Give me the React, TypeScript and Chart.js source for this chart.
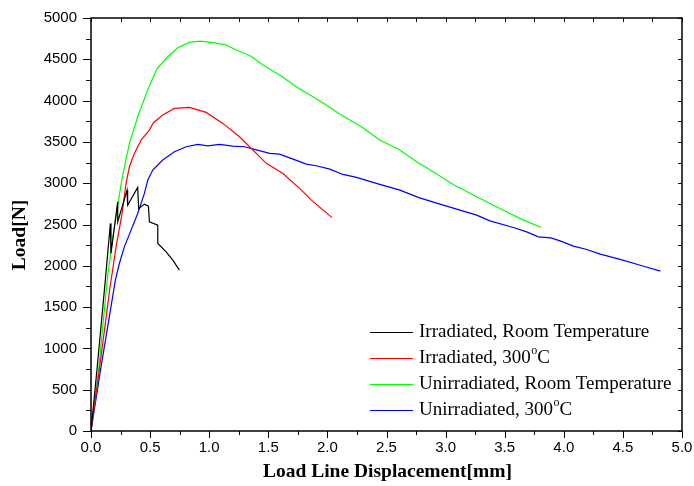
import React, { useEffect, useRef } from "react";
import { Chart, registerables } from "chart.js";

Chart.register(...registerables);

// Irradiated, Room Temperature (black)
const irrRoomX = [0, 0.05, 0.121, 0.164, 0.169, 0.226, 0.226, 0.305, 0.31, 0.395, 0.403, 0.452, 0.486, 0.494, 0.565, 0.565, 0.636, 0.692, 0.748];
const irrRoomY = [0, 735, 1823, 2513, 2149, 2774, 2532, 2916, 2734, 2949, 2694, 2747, 2722, 2532, 2492, 2270, 2169, 2068, 1947];

// Irradiated, 300°C (red)
const irr300X = [0, 0.07, 0.161, 0.183, 0.212, 0.263, 0.297, 0.325, 0.367, 0.424, 0.494, 0.528, 0.607, 0.706, 0.833, 0.975, 1.115, 1.257, 1.342, 1.483, 1.624, 1.765, 1.864, 2.037];
const irr300Y = [0, 735, 1745, 1947, 2229, 2634, 3000, 3199, 3361, 3522, 3643, 3732, 3825, 3906, 3918, 3857, 3724, 3562, 3441, 3240, 3118, 2937, 2795, 2586];

// Unirradiated, Room Temperature (green)
const unirrRoomX = [0, 0.064, 0.141, 0.19, 0.26, 0.325, 0.4, 0.48, 0.556, 0.65, 0.734, 0.833, 0.924, 1.03, 1.135, 1.23, 1.347, 1.455, 1.596, 1.737, 1.878, 1.99, 2.104, 2.3, 2.443, 2.613, 2.754, 2.895, 3.064, 3.263, 3.46, 3.658, 3.81];
const unirrRoomY = [0, 735, 1880, 2400, 3037, 3482, 3825, 4128, 4382, 4531, 4640, 4705, 4721, 4701, 4677, 4612, 4543, 4430, 4309, 4168, 4047, 3946, 3837, 3671, 3522, 3401, 3259, 3138, 2985, 2835, 2694, 2553, 2464];

// Unirradiated, 300°C (blue)
const unirr300X = [0, 0.08, 0.206, 0.24, 0.282, 0.339, 0.395, 0.452, 0.48, 0.522, 0.607, 0.706, 0.805, 0.903, 0.988, 1.087, 1.2, 1.299, 1.384, 1.511, 1.596, 1.709, 1.822, 1.907, 2.02, 2.132, 2.246, 2.443, 2.613, 2.78, 3.008, 3.263, 3.375, 3.573, 3.686, 3.785, 3.89, 3.969, 4.081, 4.195, 4.308, 4.477, 4.647, 4.817];
const unirr300Y = [0, 735, 1823, 2028, 2229, 2432, 2634, 2876, 3037, 3159, 3280, 3380, 3441, 3470, 3453, 3470, 3449, 3441, 3409, 3361, 3352, 3292, 3231, 3211, 3171, 3106, 3070, 2985, 2916, 2823, 2722, 2613, 2544, 2464, 2411, 2350, 2338, 2302, 2238, 2197, 2141, 2077, 2007, 1935];

const xTickValues = [0, 0.5, 1, 1.5, 2, 2.5, 3, 3.5, 4, 4.5, 5];
const xTickLabels = ["0.0", "0.5", "1.0", "1.5", "2.0", "2.5", "3.0", "3.5", "4.0", "4.5", "5.0"];
const yTickValues = [0, 500, 1000, 1500, 2000, 2500, 3000, 3500, 4000, 4500, 5000];
const yTickLabels = ["0", "500", "1000", "1500", "2000", "2500", "3000", "3500", "4000", "4500", "5000"];

const seriesNames = ["Irradiated, Room Temperature", "Irradiated, 300", "Unirradiated, Room Temperature", "Unirradiated, 300"];
const seriesSuper = [false, true, false, true];
const seriesColors = ["#000000", "#ff0000", "#00ff00", "#0000ff"];

const xTitle = "Load Line Displacement[mm]";
const yTitle = "Load[N]";

const toPoints = (xs: number[], ys: number[]) => xs.map((x, i) => ({ x, y: ys[i] }));

const SERIF = "'Liberation Serif', 'Times New Roman', serif";

const axesPlugin = {
  id: "originAxes",
  afterDraw(chart: any) {
    const { ctx, chartArea, scales } = chart;
    const { left, right, top, bottom } = chartArea;
    const xs = scales.x;
    const ys = scales.y;
    ctx.save();
    ctx.strokeStyle = "#000";
    ctx.lineWidth = 1.5;
    ctx.strokeRect(left, top, right - left, bottom - top);
    ctx.lineWidth = 1;
    for (let i = 0; i <= 20; i++) {
      const v = i * 0.25;
      const px = Math.round(xs.getPixelForValue(v)) + 0.5;
      const len = i % 2 === 0 ? 7 : 4;
      ctx.beginPath();
      ctx.moveTo(px, bottom);
      ctx.lineTo(px, bottom + len);
      ctx.moveTo(px, top);
      ctx.lineTo(px, top + 4);
      ctx.stroke();
    }
    for (let i = 0; i <= 20; i++) {
      const v = i * 250;
      const py = Math.round(ys.getPixelForValue(v)) + 0.5;
      const len = i % 2 === 0 ? 8 : 5;
      ctx.beginPath();
      ctx.moveTo(left, py);
      ctx.lineTo(left - len, py);
      ctx.moveTo(right, py);
      ctx.lineTo(right - 4, py);
      ctx.stroke();
    }
    ctx.fillStyle = "#000";
    ctx.font = "15px 'Liberation Sans', Arial, sans-serif";
    ctx.textAlign = "center";
    ctx.textBaseline = "middle";
    xTickValues.forEach((v, i) => {
      ctx.fillText(xTickLabels[i], xs.getPixelForValue(v), bottom + 17);
    });
    ctx.textAlign = "right";
    yTickValues.forEach((v, i) => {
      ctx.fillText(yTickLabels[i], left - 14, ys.getPixelForValue(v));
    });
    ctx.font = "bold 19.5px " + SERIF;
    ctx.textAlign = "center";
    ctx.fillText(xTitle, (left + right) / 2 + 1, bottom + 41);
    ctx.save();
    ctx.translate(20, 235);
    ctx.rotate(-Math.PI / 2);
    ctx.fillText(yTitle, 0, 0);
    ctx.restore();
    const lx0 = 370;
    const lx1 = 413;
    const tx = 419;
    const rowY = [332, 358, 384, 410];
    ctx.textAlign = "left";
    seriesNames.forEach((name, i) => {
      const yy = rowY[i];
      ctx.strokeStyle = seriesColors[i];
      ctx.lineWidth = 1.2;
      ctx.beginPath();
      ctx.moveTo(lx0, yy + 0.5);
      ctx.lineTo(lx1, yy + 0.5);
      ctx.stroke();
      ctx.fillStyle = "#000";
      ctx.font = "19px " + SERIF;
      ctx.fillText(name, tx, yy);
      if (seriesSuper[i]) {
        const w = ctx.measureText(name).width;
        ctx.font = "12px " + SERIF;
        ctx.fillText("o", tx + w + 0.5, yy - 7);
        const wo = ctx.measureText("o").width;
        ctx.font = "19px " + SERIF;
        ctx.fillText("C", tx + w + wo + 0.5, yy);
      }
    });
    ctx.restore();
  },
};

export default function App() {
  const ref = useRef<HTMLCanvasElement | null>(null);
  useEffect(() => {
    document.body.style.margin = "0";
    const canvas = ref.current;
    if (!canvas) return;
    const chart = new Chart(canvas, {
      type: "line",
      data: {
        datasets: [
          { label: seriesNames[0], data: toPoints(irrRoomX, irrRoomY), borderColor: seriesColors[0] },
          { label: seriesNames[1], data: toPoints(irr300X, irr300Y), borderColor: seriesColors[1] },
          { label: seriesNames[2], data: toPoints(unirrRoomX, unirrRoomY), borderColor: seriesColors[2] },
          { label: seriesNames[3], data: toPoints(unirr300X, unirr300Y), borderColor: seriesColors[3] },
        ].map((d) => ({ ...d, borderWidth: 1.2, pointRadius: 0, tension: 0, fill: false })),
      },
      options: {
        responsive: false,
        animation: false,
        devicePixelRatio: 1,
        layout: { padding: { left: 91, top: 18, right: 12, bottom: 55 } },
        plugins: { legend: { display: false }, tooltip: { enabled: false } },
        scales: {
          x: { type: "linear", min: 0, max: 5, display: false },
          y: { type: "linear", min: 0, max: 5000, display: false },
        },
      },
      plugins: [axesPlugin],
    });
    return () => chart.destroy();
  }, []);
  return <canvas ref={ref} width={694} height={486} style={{ display: "block" }} />;
}
